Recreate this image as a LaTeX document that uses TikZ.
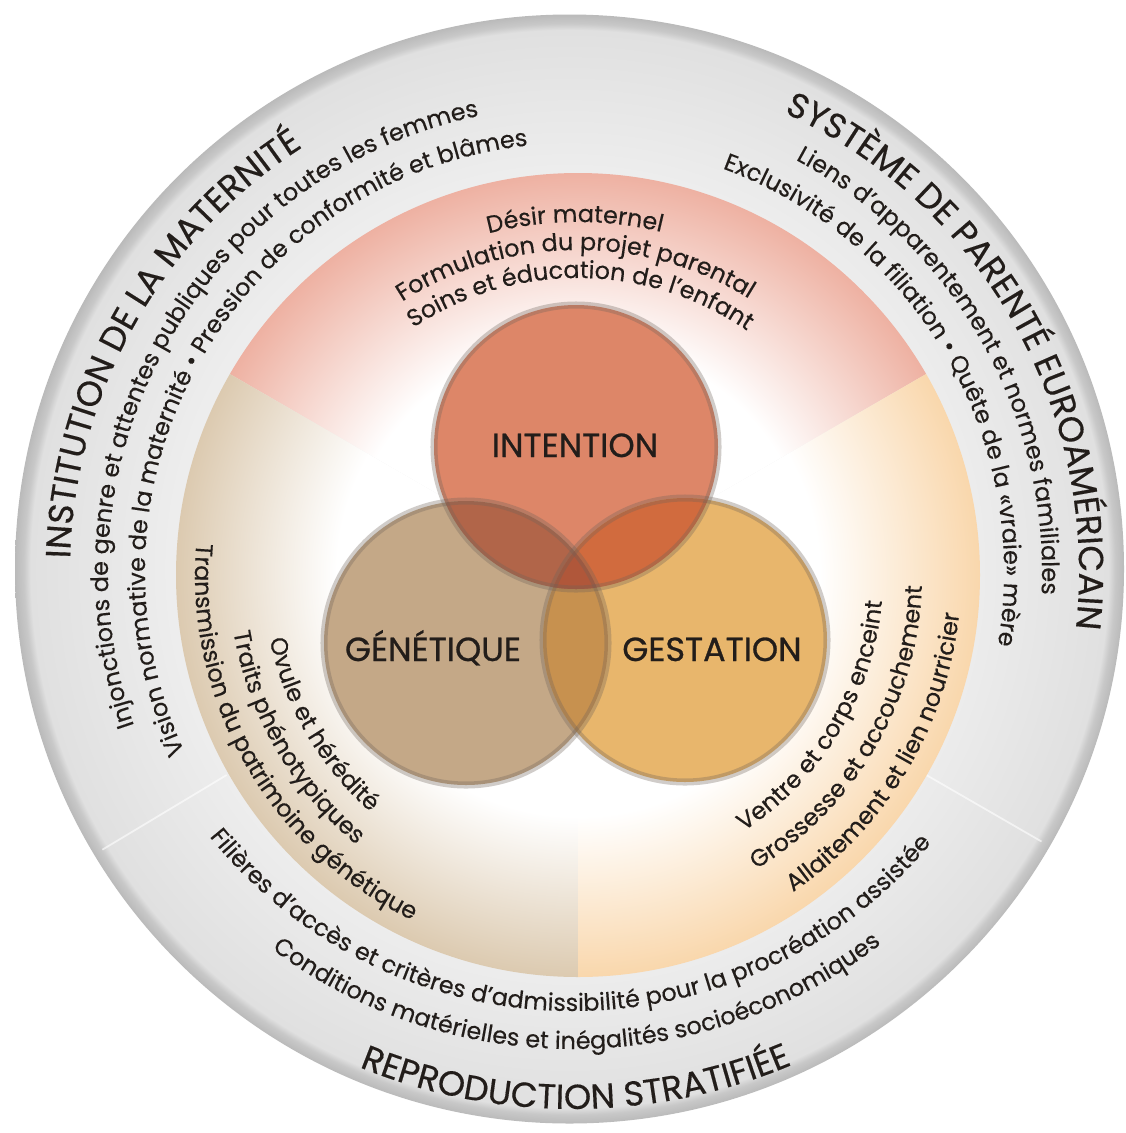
\documentclass[tikz,border=0pt]{standalone}
\usepackage{fontspec}
\setmainfont{Poppins}[FakeBold=0.35]
\newfontfamily\headfont{Poppins}[FakeBold=0.8]
\usetikzlibrary{decorations.text}

\definecolor{inkc}{HTML}{221D1A}
\definecolor{ringhi}{HTML}{EDEDED}
\definecolor{ringlo}{HTML}{E0E0E0}
\definecolor{rimc}{HTML}{C8C8C8}
\definecolor{rimd}{HTML}{BABABA}
\definecolor{pinkedge}{HTML}{EEB1A2}
\definecolor{tanedge}{HTML}{DCCAB0}
\definecolor{peachedge}{HTML}{F9D7AC}
\definecolor{intc}{HTML}{DD8668}
\definecolor{genc}{HTML}{C4A887}
\definecolor{gesc}{HTML}{E8B66C}
\definecolor{igc}{HTML}{B16549}
\definecolor{isc}{HTML}{D16B3E}
\definecolor{gsc}{HTML}{C7914F}
\definecolor{igsc}{HTML}{B0573A}
\definecolor{edgec}{HTML}{6E6259}

\pgfdeclareradialshading{ringshade}{\pgfpoint{0bp}{0bp}}{color(0bp)=(ringhi); color(18bp)=(ringhi); color(24.3bp)=(ringlo); color(24.6bp)=(rimc); color(25bp)=(rimd); color(50bp)=(rimd)}
\pgfdeclareradialshading{pinkglow}{\pgfpoint{0bp}{0bp}}{color(0bp)=(white); color(14.5bp)=(white); color(25bp)=(pinkedge); color(50bp)=(pinkedge)}
\pgfdeclareradialshading{tanglow}{\pgfpoint{0bp}{0bp}}{color(0bp)=(white); color(15bp)=(white); color(25bp)=(tanedge); color(50bp)=(tanedge)}
\pgfdeclareradialshading{peachglow}{\pgfpoint{0bp}{0bp}}{color(0bp)=(white); color(15bp)=(white); color(25bp)=(peachedge); color(50bp)=(peachedge)}

\newcommand*{\ringsmall}{\fontsize{13.6}{16}\selectfont}
\newcommand*{\ringbig}{\fontsize{19.8}{23}\selectfont}
\newcommand*{\vennfont}{\headfont\fontsize{19}{22}\selectfont}
\newcommand*{\cwtext}[4]{\path[decorate,decoration={text along path,text align=center,text color=inkc,text={#4}}] (#1) ++({#2+88}:#3) arc[start angle=#2+88,end angle=#2-88,radius=#3];}
\newcommand*{\ccwtext}[4]{\path[decorate,decoration={text along path,text align=center,text color=inkc,text={#4}}] (#1) ++({#2-88}:#3) arc[start angle=#2-88,end angle=#2+88,radius=#3];}

\begin{document}
\begin{tikzpicture}[
        x=0.02cm, y=0.02cm,
        vennedge/.style={draw=edgec, draw opacity=.32, line width=4pt},
        vennlabel/.style={font=\vennfont, text=inkc, anchor=base, inner sep=0pt},
        ringline/.style={draw=white, line width=1pt, opacity=.6},
        ]
        \fill[white] (0,0) rectangle (1126,-1133);
        \useasboundingbox (0,0) rectangle (1126,-1133);

        \coordinate (O) at (569.5,-569);
        \coordinate (T) at (574,-572);
        \coordinate (B) at (573,-545);
        \coordinate (C) at (578,-575);
        \coordinate (Ic) at (576,-447);
        \coordinate (Gc) at (466,-643);
        \coordinate (Sc) at (685,-640);

        \shade[shading=ringshade] (O) circle[radius=554.5];
        \draw[ringline] ([shift={(211:400)}]O) -- ([shift={(211:545)}]O);
        \draw[ringline] ([shift={(330:400)}]O) -- ([shift={(330:545)}]O);

        \begin{scope}
          \clip (C) -- ++(30:402) arc[start angle=30,end angle=150,radius=402] -- cycle;
          \shade[shading=pinkglow] (C) circle[radius=402];
        \end{scope}
        \begin{scope}
          \clip (C) -- ++(150:402) arc[start angle=150,end angle=270,radius=402] -- cycle;
          \shade[shading=tanglow] (C) circle[radius=402];
        \end{scope}
        \begin{scope}
          \clip (C) -- ++(270:402) arc[start angle=270,end angle=390,radius=402] -- cycle;
          \shade[shading=peachglow] (C) circle[radius=402];
        \end{scope}

        \fill[intc] (Ic) circle[radius=142];
        \fill[genc] (Gc) circle[radius=142];
        \fill[gesc] (Sc) circle[radius=142];
        \begin{scope}
          \clip (Gc) circle[radius=142];
          \fill[gsc] (Sc) circle[radius=142];
        \end{scope}
        \begin{scope}
          \clip (Ic) circle[radius=142];
          \fill[igc] (Gc) circle[radius=142];
          \fill[isc] (Sc) circle[radius=142];
          \clip (Gc) circle[radius=142];
          \fill[igsc] (Sc) circle[radius=142];
        \end{scope}
        \draw[vennedge] (Ic) circle[radius=142];
        \draw[vennedge] (Gc) circle[radius=142];
        \draw[vennedge] (Sc) circle[radius=142];

        \node[vennlabel] (intention) at (575,-457) {INTENTION};
        \node[vennlabel] (genetique) at (433,-661) {GÉNÉTIQUE};
        \node[vennlabel] (gestation) at (712,-661) {GESTATION};

        \cwtext{T}{150.5}{504}{|\ringbig|INSTITUTION DE LA MATERNITÉ}
        \cwtext{T}{150.5}{466}{|\ringsmall|Injonctions de genre et attentes publiques pour toutes les femmes}
        \cwtext{T}{150.5}{429}{|\ringsmall|Vision normative de la maternité • Pression de conformité et blâmes}
        \cwtext{T}{29.5}{505}{|\ringbig|SYSTÈME DE PARENTÉ EUROAMÉRICAIN}
        \cwtext{T}{29.5}{468}{|\ringsmall|Liens d’apparentement et normes familiales}
        \cwtext{T}{30}{430}{|\ringsmall|Exclusivité de la filiation • Quête de la «vraie» mère}
        \ccwtext{B}{269.5}{466}{|\ringsmall|Filières d’accès et critères d’admissibilité pour la procréation assistée}
        \ccwtext{B}{270.5}{504}{|\ringsmall|Conditions matérielles et inégalités socioéconomiques}
        \ccwtext{B}{270.3}{564}{|\ringbig|REPRODUCTION STRATIFIÉE}

        \cwtext{C}{90.5}{353}{|\ringsmall|Désir maternel}
        \cwtext{C}{90.5}{325}{|\ringsmall|Formulation du projet parental}
        \cwtext{C}{89.5}{297}{|\ringsmall|Soins et éducation de l’enfant}
        \ccwtext{C}{209.8}{383}{|\ringsmall|Transmission du patrimoine génétique}
        \ccwtext{C}{210}{349}{|\ringsmall|Traits phénotypiques}
        \ccwtext{C}{210.3}{315}{|\ringsmall|Ovule et hérédité}
        \ccwtext{C}{329}{305}{|\ringsmall|Ventre et corps enceint}
        \ccwtext{C}{329.7}{344}{|\ringsmall|Grossesse et accouchement}
        \ccwtext{C}{329.2}{383}{|\ringsmall|Allaitement et lien nourricier}
\end{tikzpicture}
\end{document}
